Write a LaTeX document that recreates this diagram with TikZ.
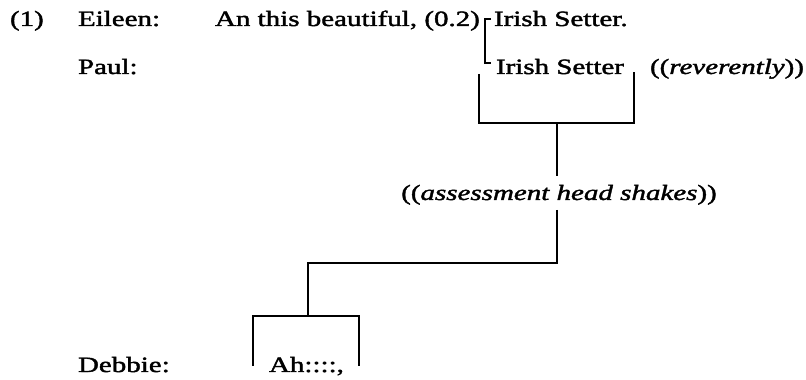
\documentclass[tikz,border=0pt]{standalone}
\usepackage{fontspec}
\setmainfont{Liberation Serif}[FakeStretch=1.33,FakeBold=1.8]
\usetikzlibrary{calc}
\newcommand{\txtsize}{\fontsize{21.8}{26}\selectfont}
\begin{document}
\begin{tikzpicture}[x=1pt,y=1pt,
  txt/.style={anchor=base west, inner sep=0pt, outer sep=0pt, font=\txtsize},
  ln/.style={line width=2.8pt, line cap=butt, line join=miter},
  brk/.style={line width=2.1pt, line cap=butt}]
\useasboundingbox[fill=white] (0,0) rectangle (806,380);
% speakers and text
\node[txt] (num) at (10,354) {(1)};
\node[txt] (eileen) at (78,354) {Eileen:};
\node[txt] (line1) at (215,354) {An this beautiful, (0.2)};
\node[txt] (irish1) at (494,354) {Irish Setter.};
\node[txt] (paul) at (78,306) {Paul:};
\node[txt] (irish2) at (496,306) {Irish Setter};
\node[txt] (rev) at (650,306) {((\textit{reverently}))};
\node[txt, anchor=base] (assess) at (559,180) {((\textit{assessment head shakes}))};
\node[txt] (debbie) at (78,8) {Debbie:};
\node[txt] (ah) at (269,8) {Ah::::,};
% overlap bracket
\coordinate (ovT) at (485,361);
\coordinate (ovB) at (485,317);
\draw[brk] ([xshift=6]ovT) -- (ovT) -- (ovB) -- ([xshift=6]ovB);
% box under Paul's Irish Setter
\coordinate (bL) at (479,306);
\coordinate (bR) at (634,308);
\coordinate (bLb) at (479,257);
\coordinate (bRb) at (634,257);
\coordinate (bM) at (557,257);
\draw[ln] (bL) -- (bLb) -- (bRb) -- (bR);
% stem to label
\coordinate (aT) at (557,204);
\coordinate (aB) at (557,170);
\draw[ln] (bM) -- (aT);
% stem from label to Debbie
\coordinate (c1) at (557,117);
\coordinate (c2) at (308,117);
\coordinate (dM) at (308,64);
\draw[ln] (aB) -- (c1) -- (c2) -- (dM);
% box over Debbie's Ah
\coordinate (dL) at (253,64);
\coordinate (dR) at (359,64);
\coordinate (dLb) at (253,14);
\coordinate (dRb) at (359,14);
\draw[ln] (dLb) -- (dL) -- (dR) -- (dRb);
\end{tikzpicture}
\end{document}
